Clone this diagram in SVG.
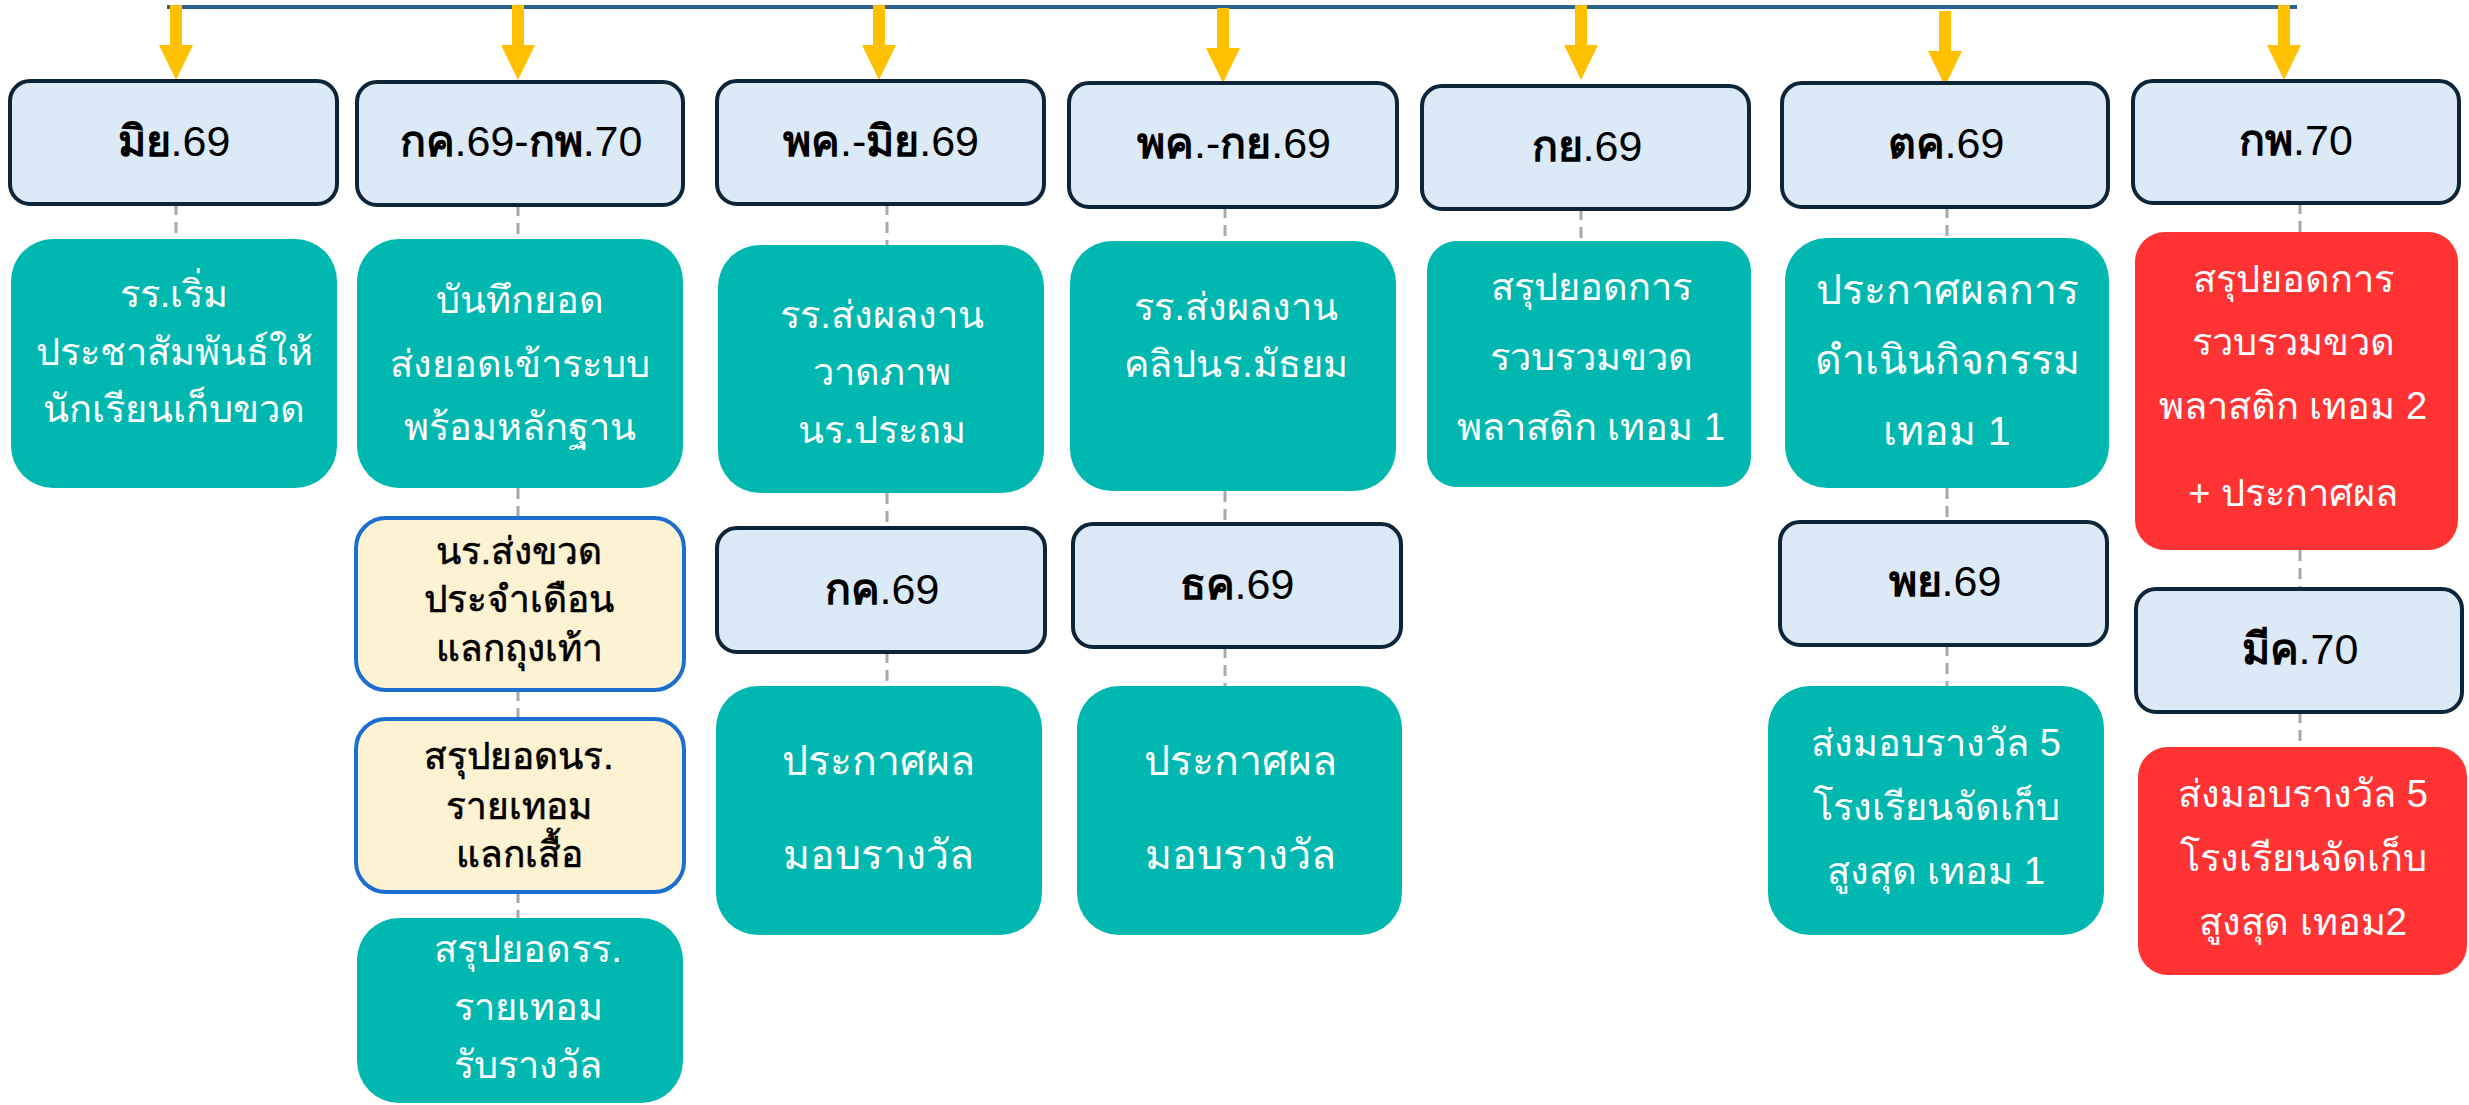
<svg xmlns="http://www.w3.org/2000/svg" xmlns:xlink="http://www.w3.org/1999/xlink" width="2469" height="1105" viewBox="0 0 2469 1105">
<defs>
<style>
.date{fill:#dce9f6;stroke:#0e2438;stroke-width:4}
.green{fill:#00b8b0}
.red{fill:#ff3333}
.yel{fill:#fdf2d1;stroke:#1c6fd0;stroke-width:4}
.dt{font-family:"Liberation Sans","Noto Sans",sans-serif;font-size:43px;fill:#000;text-anchor:middle}
.th{font-weight:bold}
.wt{font-family:"Liberation Sans","Noto Sans",sans-serif;font-size:38px;fill:#fff;text-anchor:middle}
.big{font-size:41px}
.bt{font-family:"Liberation Sans","Noto Sans",sans-serif;font-size:37px;fill:#000;stroke:#000;stroke-width:0.6;text-anchor:middle}
.dash{stroke:#a8a8a8;stroke-width:3;stroke-dasharray:11 7;fill:none}
.arr{fill:#ffc000}
</style>
<path id="arr" d="M-6,0 H6 V40 H17 L0,75 L-17,40 H-6 Z"/>
</defs>
<g id="connectors">
<line x1="167" y1="7" x2="2297" y2="7" stroke="#2a6590" stroke-width="4"/>
<use xlink:href="#arr" class="arr" x="176" y="5"/>
<use xlink:href="#arr" class="arr" x="518" y="5"/>
<use xlink:href="#arr" class="arr" x="879" y="5"/>
<use xlink:href="#arr" class="arr" x="1223" y="8"/>
<use xlink:href="#arr" class="arr" x="1581" y="5"/>
<use xlink:href="#arr" class="arr" x="1945" y="11"/>
<use xlink:href="#arr" class="arr" x="2284" y="5"/>
<path class="dash" d="M176,204V239 M518,205V239 M518,488V518 M518,690V719 M518,892V918 M887,204V245 M887,493V528 M887,652V686 M1225,207V241 M1225,491V524 M1225,647V686 M1581,209V241 M1947,207V238 M1947,488V522 M1947,645V686 M2300,203V232 M2300,550V589 M2300,712V747"/>
</g>
<g id="d1"><rect class="date" x="10" y="81" width="327" height="123" rx="20"/><text class="dt" x="174" y="156"><tspan class="th">มิย</tspan>.69</text></g>
<g id="d2"><rect class="date" x="357" y="82" width="326" height="123" rx="20"/><text class="dt" x="521" y="156"><tspan class="th">กค</tspan>.69-<tspan class="th">กพ</tspan>.70</text></g>
<g id="d3"><rect class="date" x="717" y="81" width="327" height="123" rx="20"/><text class="dt" x="881" y="156"><tspan class="th">พค</tspan>.-<tspan class="th">มิย</tspan>.69</text></g>
<g id="d4"><rect class="date" x="1069" y="83" width="328" height="124" rx="20"/><text class="dt" x="1234" y="158"><tspan class="th">พค</tspan>.-<tspan class="th">กย</tspan>.69</text></g>
<g id="d5"><rect class="date" x="1422" y="86" width="327" height="123" rx="20"/><text class="dt" x="1587" y="161"><tspan class="th">กย</tspan>.69</text></g>
<g id="d6"><rect class="date" x="1782" y="83" width="326" height="124" rx="20"/><text class="dt" x="1946" y="158"><tspan class="th">ตค</tspan>.69</text></g>
<g id="d7"><rect class="date" x="2133" y="81" width="326" height="122" rx="20"/><text class="dt" x="2296" y="155"><tspan class="th">กพ</tspan>.70</text></g>
<g id="d8"><rect class="date" x="717" y="528" width="328" height="124" rx="20"/><text class="dt" x="882" y="604"><tspan class="th">กค</tspan>.69</text></g>
<g id="d9"><rect class="date" x="1073" y="524" width="328" height="123" rx="20"/><text class="dt" x="1237" y="599"><tspan class="th">ธค</tspan>.69</text></g>
<g id="d10"><rect class="date" x="1780" y="522" width="327" height="123" rx="20"/><text class="dt" x="1945" y="596"><tspan class="th">พย</tspan>.69</text></g>
<g id="d11"><rect class="date" x="2136" y="589" width="326" height="123" rx="20"/><text class="dt" x="2300" y="664"><tspan class="th">มีค</tspan>.70</text></g>
<g id="g1"><rect class="green" x="11" y="239" width="326" height="249" rx="42"/><text class="wt" x="174" y="307">รร.เริ่ม</text><text class="wt" x="174" y="365">ประชาสัมพันธ์ให้</text><text class="wt" x="174" y="422">นักเรียนเก็บขวด</text></g>
<g id="g2"><rect class="green" x="357" y="239" width="326" height="249" rx="42"/><text class="wt" x="520" y="313">บันทึกยอด</text><text class="wt" x="520" y="377">ส่งยอดเข้าระบบ</text><text class="wt" x="520" y="440">พร้อมหลักฐาน</text></g>
<g id="y1"><rect class="yel" x="356" y="518" width="328" height="172" rx="30"/><text class="bt" x="519" y="564">นร.ส่งขวด</text><text class="bt" x="519" y="612">ประจำเดือน</text><text class="bt" x="519" y="661">แลกถุงเท้า</text></g>
<g id="y2"><rect class="yel" x="356" y="719" width="328" height="173" rx="30"/><text class="bt" x="519" y="769">สรุปยอดนร.</text><text class="bt" x="519" y="819">รายเทอม</text><text class="bt" x="519" y="867">แลกเสื้อ</text></g>
<g id="g3"><rect class="green" x="357" y="918" width="326" height="185" rx="42"/><text class="wt" x="528" y="962">สรุปยอดรร.</text><text class="wt" x="528" y="1020">รายเทอม</text><text class="wt" x="528" y="1078">รับรางวัล</text></g>
<g id="g4"><rect class="green" x="718" y="245" width="326" height="248" rx="42"/><text class="wt" x="882" y="328">รร.ส่งผลงาน</text><text class="wt" x="882" y="385">วาดภาพ</text><text class="wt" x="882" y="443">นร.ประถม</text></g>
<g id="g5"><rect class="green" x="1070" y="241" width="326" height="250" rx="42"/><text class="wt" x="1236" y="320">รร.ส่งผลงาน</text><text class="wt" x="1236" y="377">คลิปนร.มัธยม</text></g>
<g id="g6"><rect class="green" x="716" y="686" width="326" height="249" rx="42"/><text class="wt big" x="878" y="775">ประกาศผล</text><text class="wt big" x="878" y="869">มอบรางวัล</text></g>
<g id="g7"><rect class="green" x="1077" y="686" width="325" height="249" rx="42"/><text class="wt big" x="1240" y="775">ประกาศผล</text><text class="wt big" x="1240" y="869">มอบรางวัล</text></g>
<g id="g8"><rect class="green" x="1427" y="241" width="324" height="246" rx="30"/><text class="wt" x="1591" y="300">สรุปยอดการ</text><text class="wt" x="1591" y="370">รวบรวมขวด</text><text class="wt" x="1591" y="440">พลาสติก เทอม 1</text></g>
<g id="g9"><rect class="green" x="1785" y="238" width="324" height="250" rx="42"/><text class="wt big" x="1947" y="304">ประกาศผลการ</text><text class="wt big" x="1947" y="374">ดำเนินกิจกรรม</text><text class="wt big" x="1947" y="445">เทอม 1</text></g>
<g id="g10"><rect class="green" x="1768" y="686" width="336" height="249" rx="42"/><text class="wt" x="1936" y="756">ส่งมอบรางวัล 5</text><text class="wt" x="1936" y="820">โรงเรียนจัดเก็บ</text><text class="wt" x="1936" y="884">สูงสุด เทอม 1</text></g>
<g id="r1"><rect class="red" x="2135" y="232" width="323" height="318" rx="30"/><text class="wt" x="2293" y="292">สรุปยอดการ</text><text class="wt" x="2293" y="355">รวบรวมขวด</text><text class="wt" x="2293" y="419">พลาสติก เทอม 2</text><text class="wt" x="2293" y="506">+ ประกาศผล</text></g>
<g id="r2"><rect class="red" x="2138" y="747" width="329" height="228" rx="30"/><text class="wt" x="2303" y="807">ส่งมอบรางวัล 5</text><text class="wt" x="2303" y="871">โรงเรียนจัดเก็บ</text><text class="wt" x="2303" y="935">สูงสุด เทอม2</text></g>
</svg>
